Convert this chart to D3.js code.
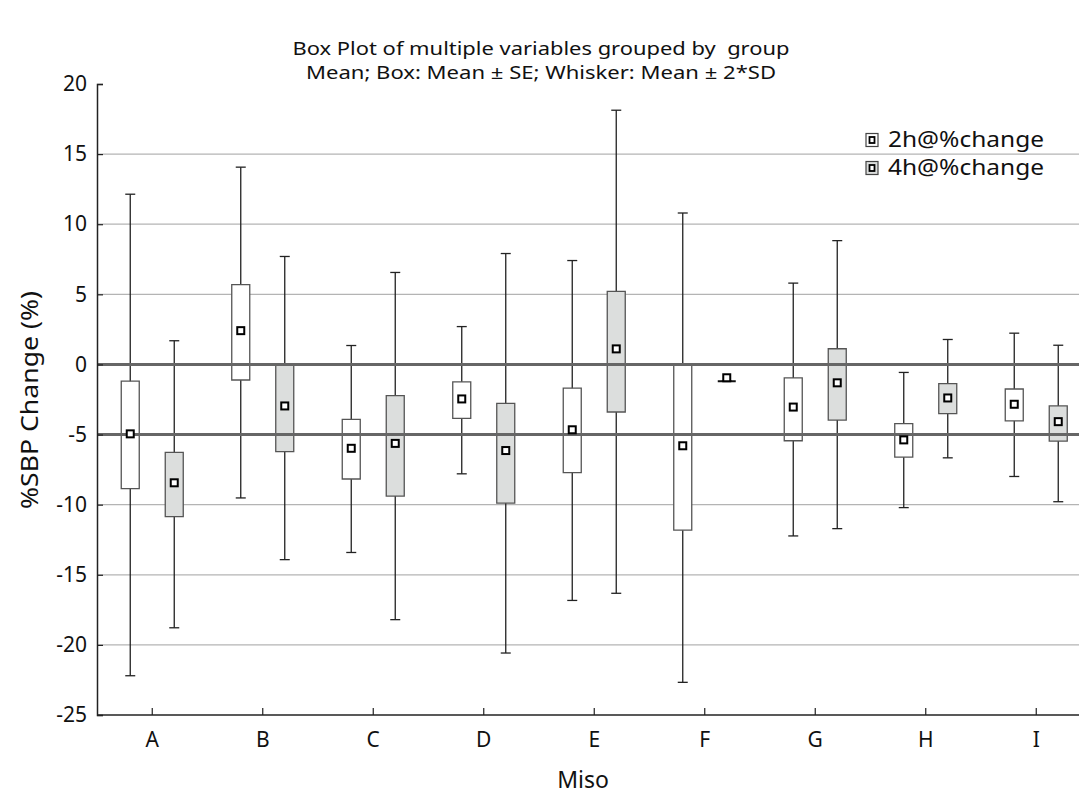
<!DOCTYPE html>
<html>
<head>
<meta charset="utf-8">
<script src="https://cdn.jsdelivr.net/npm/d3@7"></script>
<style>
  html, body { margin: 0; padding: 0; background: #fff; }
  svg { display: block; }
  text { font-family: "Noto Sans", "Open Sans", sans-serif; fill: #111; }
</style>
</head>
<body>
<svg id="chart" width="1079" height="796"></svg>
<script>
// Groups along the x axis
const categories = ["A", "B", "C", "D", "E", "F", "G", "H", "I"];
const seriesNames = ["2h@%change", "4h@%change"];

// 2h: mean, box (mean ± SE) and whiskers (mean ± 2*SD)
const mean2h  = [-4.95,  2.41, -5.98, -2.46, -4.66,  -5.80, -3.04, -5.38, -2.84];
const boxHi2h = [-1.19,  5.69, -3.92, -1.24, -1.69,   0.00, -0.96, -4.22, -1.75];
const boxLo2h = [-8.86, -1.11, -8.17, -3.84, -7.72, -11.82, -5.44, -6.61, -4.03];
const whHi2h  = [12.14, 14.07,  1.35,  2.70,  7.41,  10.80,  5.80, -0.57,  2.23];
const whLo2h  = [-22.2, -9.52, -13.41, -7.80, -16.83, -22.67, -12.23, -10.21, -7.99];

// 4h: same statistics
const mean4h  = [-8.44, -2.96, -5.63, -6.14,  1.11, -0.95, -1.31, -2.39, -4.08];
const boxHi4h = [-6.27,  0.00, -2.22, -2.78,  5.21, -1.20,  1.12, -1.37, -2.96];
const boxLo4h = [-10.85, -6.22, -9.39, -9.89, -3.39, -1.20, -3.97, -3.51, -5.47];
const whHi4h  = [ 1.69,  7.70,  6.56,  7.91, 18.13, -1.20,  8.83,  1.78,  1.37];
const whLo4h  = [-18.78, -13.92, -18.2, -20.58, -16.32, -1.20, -11.71, -6.66, -9.79];

const yTicks = [20, 15, 10, 5, 0, -5, -10, -15, -20, -25];
const gridValues = [15, 10, 5, -10, -15, -20];
const refValues = [0, -5];

const svg = d3.select("#chart");
const W = 1079;
const plotLeft = 97, plotTop = 84, plotBottom = 715;
const bandW = 110.5;

const x = d3.scaleBand().domain(categories).range([plotLeft, plotLeft + bandW * categories.length]).padding(0);
const sub = d3.scaleBand().domain(seriesNames).range([-44, 44]).paddingInner(0);
const y = d3.scaleLinear().domain([-25, 20]).range([plotBottom, plotTop]);

const fills = { "2h@%change": "#ffffff", "4h@%change": "#dcdedd" };
const boxW = 18, capW = 10;

// Build rows from the arrays
const rows = [];
categories.forEach((c, i) => {
  rows.push({ cat: c, s: seriesNames[0], mean: mean2h[i], hi: boxHi2h[i], lo: boxLo2h[i], wh: whHi2h[i], wl: whLo2h[i] });
  rows.push({ cat: c, s: seriesNames[1], mean: mean4h[i], hi: boxHi4h[i], lo: boxLo4h[i], wh: whHi4h[i], wl: whLo4h[i] });
});
const cx = d => x(d.cat) + x.bandwidth() / 2 + sub(d.s) + sub.bandwidth() / 2;

// Light gridlines
svg.append("g").selectAll("line").data(gridValues).join("line")
  .attr("x1", plotLeft).attr("x2", W)
  .attr("y1", d => y(d)).attr("y2", d => y(d))
  .attr("stroke", "#b4b4b4").attr("stroke-width", 1.3);

// Whiskers
const wg = svg.append("g").attr("stroke", "#222").attr("stroke-width", 1.3);
wg.selectAll("line.stem").data(rows).join("line").attr("class", "stem")
  .attr("x1", cx).attr("x2", cx)
  .attr("y1", d => y(d.wh)).attr("y2", d => y(d.wl));
wg.selectAll("line.capHi").data(rows).join("line").attr("class", "capHi")
  .attr("x1", d => cx(d) - capW / 2).attr("x2", d => cx(d) + capW / 2)
  .attr("y1", d => y(d.wh)).attr("y2", d => y(d.wh));
wg.selectAll("line.capLo").data(rows).join("line").attr("class", "capLo")
  .attr("x1", d => cx(d) - capW / 2).attr("x2", d => cx(d) + capW / 2)
  .attr("y1", d => y(d.wl)).attr("y2", d => y(d.wl));

// Boxes (mean ± SE), drawn as paths so a flat box still shows as a line
svg.append("g").selectAll("path").data(rows).join("path")
  .attr("d", d => {
    const x0 = cx(d) - boxW / 2, x1 = cx(d) + boxW / 2;
    const y0 = y(d.hi), y1 = y(d.lo);
    return `M${x0},${y0}H${x1}V${y1}H${x0}Z`;
  })
  .attr("fill", d => fills[d.s])
  .attr("stroke", d => d.hi === d.lo ? "#111" : "#555")
  .attr("stroke-width", d => d.hi === d.lo ? 1.8 : 1.3);

// Reference lines at 0 and -5
svg.append("g").selectAll("line").data(refValues).join("line")
  .attr("x1", plotLeft).attr("x2", W)
  .attr("y1", d => y(d)).attr("y2", d => y(d))
  .attr("stroke", "#666").attr("stroke-width", 3);

// Mean markers
svg.append("g").selectAll("rect").data(rows).join("rect")
  .attr("x", d => cx(d) - 3.5).attr("y", d => y(d.mean) - 3.5)
  .attr("width", 7).attr("height", 7)
  .attr("fill", "#fff").attr("stroke", "#000").attr("stroke-width", 2);

// Axes (plain hyphen for negative tick labels)
const yAxis = d3.axisLeft(y).tickValues(yTicks).tickSize(-6).tickPadding(16)
  .tickFormat(d => String(d));
const gy = svg.append("g").attr("transform", `translate(${plotLeft},0)`).call(yAxis);
gy.select(".domain").attr("stroke", "#222").attr("stroke-width", 1.5);
gy.selectAll(".tick line").attr("stroke", "#222").attr("stroke-width", 1.2);
gy.selectAll(".tick text").attr("font-size", 21).attr("fill", "#111")
  .attr("font-family", "'Noto Sans', sans-serif").attr("x", -10);

const xAxis = d3.axisBottom(x).tickSize(-7).tickPadding(14);
const gx = svg.append("g").attr("transform", `translate(0,${plotBottom})`).call(xAxis);
gx.select(".domain").attr("d", `M${plotLeft},0H${W}`).attr("stroke", "#222").attr("stroke-width", 1.5);
gx.selectAll(".tick line").attr("stroke", "#222").attr("stroke-width", 1.2);
gx.selectAll(".tick text").attr("font-size", 21).attr("fill", "#111")
  .attr("font-family", "'Noto Sans', sans-serif").attr("y", 17);

// Titles
svg.append("text").attr("x", 541).attr("y", 55).attr("text-anchor", "middle")
  .attr("font-size", 17.5).attr("textLength", 497).attr("lengthAdjust", "spacingAndGlyphs")
  .style("white-space", "pre")
  .text("Box Plot of multiple variables grouped by  group");
svg.append("text").attr("x", 541).attr("y", 79).attr("text-anchor", "middle")
  .attr("font-size", 17.5).attr("textLength", 470).attr("lengthAdjust", "spacingAndGlyphs")
  .text("Mean; Box: Mean \u00B1 SE; Whisker: Mean \u00B1 2*SD");

svg.append("text").attr("transform", "translate(38,400) rotate(-90)")
  .attr("text-anchor", "middle").attr("font-size", 23)
  .attr("textLength", 218).attr("lengthAdjust", "spacingAndGlyphs")
  .text("%SBP Change (%)");
svg.append("text").attr("x", 583).attr("y", 788).attr("text-anchor", "middle")
  .attr("font-size", 23).text("Miso");

// Legend
const lg = svg.append("g");
seriesNames.forEach((name, i) => {
  const ly = 140 + i * 28;
  lg.append("rect").attr("x", 866).attr("y", ly - 6.5).attr("width", 12).attr("height", 13)
    .attr("fill", fills[name]).attr("stroke", "#444").attr("stroke-width", 1.2);
  lg.append("rect").attr("x", 869.5).attr("y", ly - 3).attr("width", 5).attr("height", 6)
    .attr("fill", "#fff").attr("stroke", "#000").attr("stroke-width", 1.8);
  lg.append("text").attr("x", 888).attr("y", ly + 7).attr("font-size", 21)
    .attr("textLength", 156).attr("lengthAdjust", "spacingAndGlyphs").text(name);
});
</script>
</body>
</html>
